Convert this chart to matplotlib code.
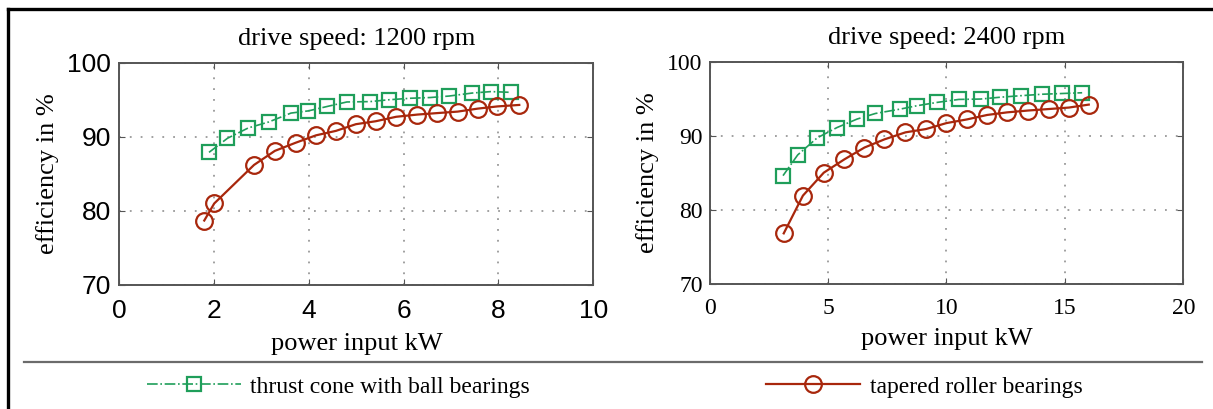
import matplotlib.pyplot as plt
from matplotlib.lines import Line2D

# drive speed 1200 rpm
p_ball_1200 = [1.89, 2.28, 2.72, 3.15, 3.62, 3.99, 4.39, 4.80, 5.29, 5.69, 6.14, 6.56, 6.96, 7.44, 7.84, 8.26]
eff_ball_1200 = [87.9, 89.8, 91.2, 92.0, 93.2, 93.5, 94.1, 94.7, 94.75, 95.0, 95.2, 95.3, 95.5, 95.9, 96.1, 96.0]
p_roll_1200 = [1.79, 2.0, 2.84, 3.28, 3.72, 4.15, 4.57, 4.99, 5.41, 5.84, 6.29, 6.71, 7.14, 7.56, 7.98, 8.44]
eff_roll_1200 = [78.7, 81.0, 86.2, 88.1, 89.2, 90.2, 90.8, 91.7, 92.1, 92.7, 93.0, 93.2, 93.4, 93.8, 94.1, 94.3]

# drive speed 2400 rpm
p_ball_2400 = [3.10, 3.72, 4.54, 5.38, 6.23, 7.0, 8.06, 8.76, 9.61, 10.52, 11.44, 12.28, 13.13, 14.04, 14.89, 15.73]
eff_ball_2400 = [84.6, 87.4, 89.7, 91.1, 92.25, 93.0, 93.6, 94.05, 94.5, 94.9, 94.95, 95.2, 95.4, 95.6, 95.7, 95.8]
p_roll_2400 = [3.13, 3.94, 4.82, 5.69, 6.54, 7.38, 8.27, 9.14, 10.0, 10.87, 11.72, 12.56, 13.45, 14.32, 15.17, 16.01]
eff_roll_2400 = [76.8, 81.9, 85.0, 86.8, 88.4, 89.5, 90.45, 90.9, 91.7, 92.2, 92.8, 93.15, 93.4, 93.6, 93.8, 94.2]

titles = ['drive speed: 1200 rpm', 'drive speed: 2400 rpm']
labels = ['thrust cone with ball bearings', 'tapered roller bearings']

GREEN = '#1f9e5a'
RED = '#a8270c'
SERIF = 'Liberation Serif'

fig = plt.figure(figsize=(12.13, 4.09), dpi=100)
ax1 = fig.add_axes([0.0985, 0.3032, 0.3905, 0.5435])
ax2 = fig.add_axes([0.585, 0.3064, 0.3905, 0.5428])

panels = [
    (ax1, p_ball_1200, eff_ball_1200, p_roll_1200, eff_roll_1200, [0, 10], [0, 2, 4, 6, 8, 10]),
    (ax2, p_ball_2400, eff_ball_2400, p_roll_2400, eff_roll_2400, [0, 20], [0, 5, 10, 15, 20]),
]

handles = None
for i, (ax, xb, yb, xr, yr, xlim, xticks) in enumerate(panels):
    lb, = ax.plot(xb, yb, linestyle='-.', color=GREEN, lw=1.2, marker='s', ms=10,
                  mfc='none', mew=1.6, label=labels[0])
    lr, = ax.plot(xr, yr, linestyle='-', color=RED, lw=1.6, marker='o', ms=12,
                  mfc='none', mew=1.6, label=labels[1])
    handles = (lb, lr)
    ax.set_xlim(xlim)
    ax.set_ylim(70, 100)
    ax.set_xticks(xticks)
    ax.set_yticks([70, 80, 90, 100])
    ax.grid(True, color='#999999', linestyle=(0, (1, 5)), lw=1.3)
    ax.tick_params(direction='in', top=True, right=True, length=4, color='#555555')
    for s in ax.spines.values():
        s.set_color('#555555')
        s.set_linewidth(1.4)
    ax.set_title(titles[i], fontsize=19, family=SERIF, pad=13)
    ax.set_xlabel('power input kW', fontsize=19, family=SERIF, labelpad=7)
    ax.set_ylabel('efficiency in %', fontsize=19, family=SERIF, labelpad=6)

# left panel uses large sans tick labels, right panel serif
for t in ax1.get_xticklabels() + ax1.get_yticklabels():
    t.set_fontfamily('Liberation Sans')
    t.set_fontsize(19)
ax1.tick_params(axis='x', pad=10)
ax1.tick_params(axis='y', pad=6)
for t in ax2.get_xticklabels() + ax2.get_yticklabels():
    t.set_fontfamily(SERIF)
    t.set_fontsize(17)
ax2.tick_params(axis='x', pad=10)
ax2.tick_params(axis='y', pad=5)

# outer frame (left and top edges) and separator line
fig.add_artist(Line2D([8 / 1213, 8 / 1213], [0, 1 - 9 / 409], color='black', lw=2.4))
fig.add_artist(Line2D([8 / 1213, 1], [1 - 9 / 409, 1 - 9 / 409], color='black', lw=2.4))
fig.add_artist(Line2D([24 / 1213, 1202 / 1213], [1 - 362 / 409, 1 - 362 / 409], color='#6b6b6b', lw=1.6))

fig.legend(handles=[handles[0]], loc='center', bbox_to_anchor=(0.279, 0.054), frameon=False,
           handlelength=4.0, handletextpad=0.4, prop={'family': SERIF, 'size': 17})
fig.legend(handles=[handles[1]], loc='center', bbox_to_anchor=(0.762, 0.054), frameon=False,
           handlelength=4.0, handletextpad=0.4, prop={'family': SERIF, 'size': 17})

fig.savefig('out.png', dpi=100)
